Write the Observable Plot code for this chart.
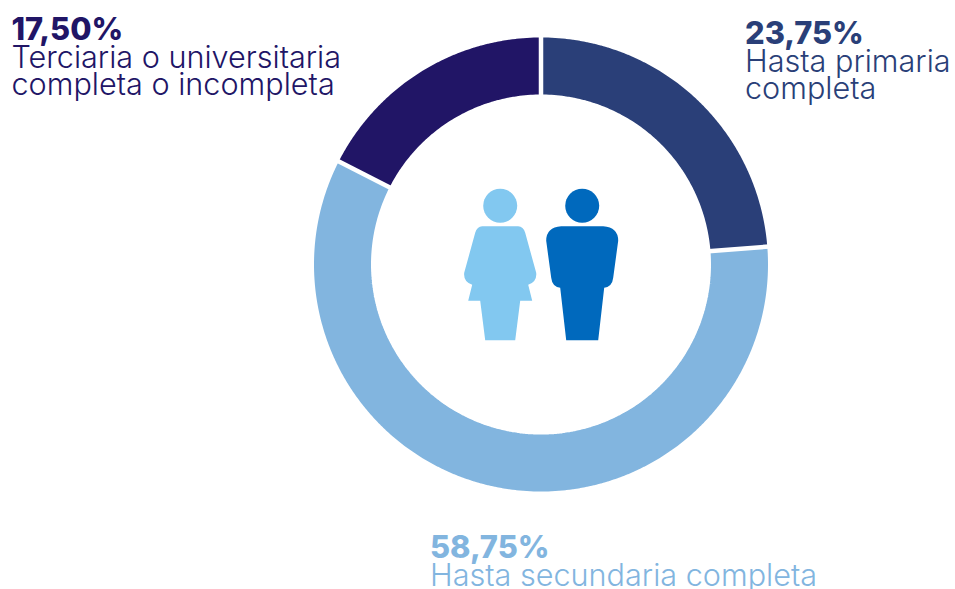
<!DOCTYPE html>
<html lang="es">
<head>
<meta charset="utf-8">
<script src="https://cdn.jsdelivr.net/npm/d3@7"></script>
<script src="https://cdn.jsdelivr.net/npm/@observablehq/plot@0.6"></script>
<style>
html,body{margin:0;padding:0;background:#fff;overflow:hidden}
svg{display:block}
</style>
</head>
<body>
<script>
// Data
const categories = ["Hasta primaria completa", "Hasta secundaria completa", "Terciaria o universitaria completa o incompleta"];
const shares = [23.75, 58.75, 17.5];
const shareLabels = ["23,75%", "58,75%", "17,50%"];
const labelLines = [["Hasta primaria", "completa"], ["Hasta secundaria completa"], ["Terciaria o universitaria", "completa o incompleta"]];

// Styles and layout
const colors = ["#2a3f78", "#82b5df", "#211566"];
const femaleColor = "#82c8f0";
const maleColor = "#0069bd";
const font = "Inter, 'Noto Sans', sans-serif";
const W = 955, H = 589, cx = 540.5, cy = 264;
const rMid = 198.5, ringWidth = 57, rIn = 168, rOut = 229;
const labelAnchors = [[744.5, 43], [429.5, 557], [11, 39]];

// Ring geometry derived from the shares
const polar = (pct, r) => {
  const a = pct / 100 * 2 * Math.PI;
  return {x: r * Math.sin(a), y: -r * Math.cos(a)};
};
const ends = Array.from(d3.cumsum(shares));
const arcPoints = categories.flatMap((category, i) => {
  const start = i ? ends[i - 1] : 0, end = ends[i];
  const n = Math.ceil((end - start) * 4);
  return d3.range(n + 1).map(k => ({category, ...polar(start + (end - start) * k / n, rMid)}));
});
const gaps = ends.map(e => ({a: polar(e, rIn), b: polar(e, rOut)}));

// Label rows
const numberRows = categories.map((category, i) => ({category, text: shareLabels[i], x: labelAnchors[i][0] - cx, y: labelAnchors[i][1] - cy}));
const lineRows = categories.flatMap((category, i) => labelLines[i].map((text, j) => ({
  category, text, x: labelAnchors[i][0] - cx, y: labelAnchors[i][1] - cy + 28 + j * 27
})));

// Pictogram symbols (drawn around the figure's head centre)
const femaleBody = {draw(c) {
  c.moveTo(-18, 20.5);
  c.lineTo(18, 20.5);
  c.quadraticCurveTo(23, 20.5, 25, 27);
  c.lineTo(36, 67);
  c.quadraticCurveTo(37, 76, 28, 79);
  c.lineTo(32, 95);
  c.lineTo(20, 95);
  c.lineTo(15, 134.5);
  c.lineTo(-15, 134.5);
  c.lineTo(-20, 95);
  c.lineTo(-32, 95);
  c.lineTo(-28, 79);
  c.quadraticCurveTo(-37, 76, -36, 67);
  c.lineTo(-25, 27);
  c.quadraticCurveTo(-23, 20.5, -18, 20.5);
  c.closePath();
}};
const maleBody = {draw(c) {
  c.moveTo(-21, 20.5);
  c.lineTo(21, 20.5);
  c.quadraticCurveTo(36, 21.5, 36, 35);
  c.lineTo(31, 72);
  c.quadraticCurveTo(30, 81, 22, 82);
  c.lineTo(16, 134.5);
  c.lineTo(-16, 134.5);
  c.lineTo(-22, 82);
  c.quadraticCurveTo(-30, 81, -31, 72);
  c.lineTo(-36, 35);
  c.quadraticCurveTo(-36, 21.5, -21, 20.5);
  c.closePath();
}};
const femaleAt = [{x: -40.8, y: -58.7}];
const maleAt = [{x: 41.2, y: -58.7}];

const chart = Plot.plot({
  width: W, height: H, margin: 0,
  style: {fontFamily: font, background: "#fff"},
  x: {domain: [-cx, W - cx], range: [0, W], axis: null},
  y: {domain: [-cy, H - cy], range: [0, H], axis: null},
  color: {domain: categories, range: colors},
  marks: [
    Plot.line(arcPoints, {x: "x", y: "y", z: "category", stroke: "category",
      strokeWidth: ringWidth, strokeLinecap: "butt", strokeLinejoin: "bevel"}),
    Plot.link(gaps, {x1: d => d.a.x, y1: d => d.a.y, x2: d => d.b.x, y2: d => d.b.y,
      stroke: "#fff", strokeWidth: 4.5}),
    Plot.dot(femaleAt, {x: "x", y: "y", r: 17, fill: femaleColor, stroke: null}),
    Plot.dot(maleAt, {x: "x", y: "y", r: 17, fill: maleColor, stroke: null}),
    Plot.dot(femaleAt, {x: "x", y: "y", r: 17, symbol: femaleBody, fill: femaleColor, stroke: null}),
    Plot.dot(maleAt, {x: "x", y: "y", r: 17, symbol: maleBody, fill: maleColor, stroke: null}),
    Plot.text(numberRows, {x: "x", y: "y", text: "text", fill: "category", textAnchor: "start",
      lineAnchor: "bottom", fontSize: 30.8, fontWeight: 800}),
    Plot.text(lineRows, {x: "x", y: "y", text: "text", fill: "category", textAnchor: "start",
      lineAnchor: "bottom", fontSize: 30.6, fontWeight: 300})
  ]
});
document.body.append(chart);
</script>
</body>
</html>
